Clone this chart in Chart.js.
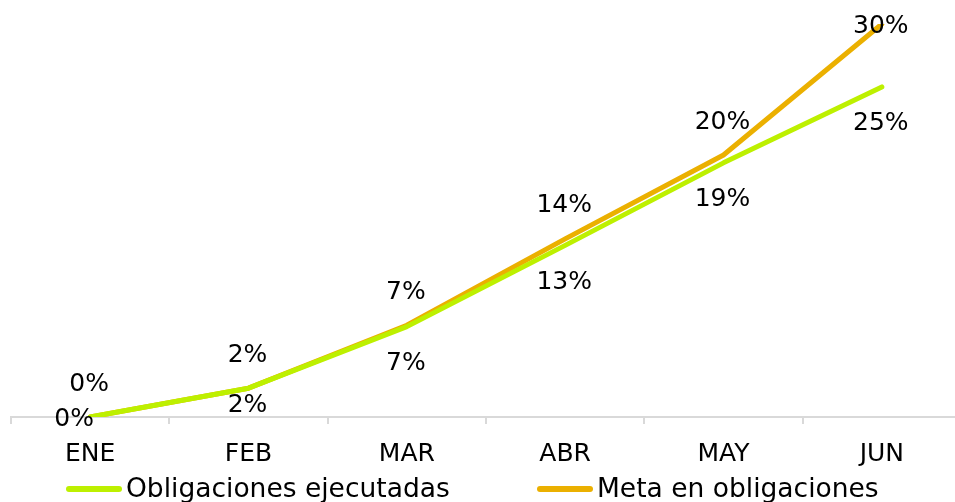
<!DOCTYPE html>
<html>
<head>
<meta charset="utf-8">
<script src="https://cdn.jsdelivr.net/npm/chart.js@4"></script>
<style>
html,body{margin:0;padding:0;background:#fff;overflow:hidden;}
#wrap{position:relative;width:961px;height:502px;}
</style>
</head>
<body>
<div id="wrap"><canvas id="c"></canvas></div>
<script>
const categories = ["ENE", "FEB", "MAR", "ABR", "MAY", "JUN"];
const ejecutadas = [0, 2.2, 6.9, 13.1, 19.4, 25.2];
const ejecutadasLabels = ["0%", "2%", "7%", "13%", "19%", "25%"];
const meta = [0, 2.2, 7.0, 13.6, 20.0, 30.0];
const metaLabels = ["0%", "2%", "7%", "14%", "20%", "30%"];
const seriesNames = ["Obligaciones ejecutadas", "Meta en obligaciones"];

const FONT = "'DejaVu Sans', Verdana, sans-serif";
const GREEN = "#BDF000";
const ORANGE = "#EBB000";

const labelPlugin = {
  id: 'labels',
  afterDatasetsDraw(chart) {
    const ctx = chart.ctx;
    ctx.save();
    ctx.font = "25px " + FONT;
    ctx.fillStyle = "#000";
    ctx.textAlign = "center";
    ctx.textBaseline = "middle";
    const bottomLimit = chart.chartArea.bottom - 12;
    const m1 = chart.getDatasetMeta(1);
    m1.data.forEach((p, i) => {
      let y = p.y - 33;
      if (y < 26) y = 26;
      ctx.fillText(metaLabels[i], p.x - 1, y);
    });
    const m0 = chart.getDatasetMeta(0);
    m0.data.forEach((p, i) => {
      let y = p.y + 37;
      let x = p.x - 1;
      if (i === 0) { y = p.y + 2; x = p.x - 16; }
      else if (y > bottomLimit) y = bottomLimit;
      ctx.fillText(ejecutadasLabels[i], x, y);
    });
    ctx.restore();
  }
};

const legendPlugin = {
  id: 'customLegend',
  afterDraw(chart) {
    const ctx = chart.ctx;
    ctx.save();
    ctx.font = "26.5px " + FONT;
    ctx.fillStyle = "#000";
    ctx.textAlign = "left";
    ctx.textBaseline = "middle";
    const y = 489;
    const starts = [66, 537];
    chart.data.datasets.forEach((ds, i) => {
      const x0 = starts[i];
      ctx.strokeStyle = ds.borderColor;
      ctx.lineWidth = 6;
      ctx.lineCap = 'round';
      ctx.beginPath();
      ctx.moveTo(x0 + 3, y);
      ctx.lineTo(x0 + 53, y);
      ctx.stroke();
      ctx.fillText(seriesNames[i], x0 + 60, y + 1);
    });
    ctx.restore();
  }
};

new Chart(document.getElementById('c'), {
  type: 'line',
  data: {
    labels: categories,
    datasets: [
      { label: seriesNames[0], data: ejecutadas, borderColor: GREEN, backgroundColor: GREEN,
        borderWidth: 5, pointRadius: 0, tension: 0, borderCapStyle: 'round', borderJoinStyle: 'round' },
      { label: seriesNames[1], data: meta, borderColor: ORANGE, backgroundColor: ORANGE,
        borderWidth: 5, pointRadius: 0, tension: 0, borderCapStyle: 'round', borderJoinStyle: 'round' }
    ]
  },
  options: {
    responsive: true,
    maintainAspectRatio: false,
    animation: false,
    layout: { padding: { left: 11, right: 0, top: 24, bottom: 18 } },
    plugins: {
      legend: { display: false },
      tooltip: { enabled: false }
    },
    scales: {
      x: {
        offset: true,
        grid: { display: true, drawOnChartArea: false, drawTicks: true, tickLength: 7, color: "#D9D9D9", lineWidth: 2, offset: true },
        border: { display: true, color: "#D9D9D9", width: 2 },
        ticks: { font: { family: FONT, size: 25 }, color: "#000", padding: 15, maxRotation: 0 }
      },
      y: {
        display: false,
        min: 0,
        max: 30
      }
    }
  },
  plugins: [labelPlugin, legendPlugin]
});
</script>
</body>
</html>
